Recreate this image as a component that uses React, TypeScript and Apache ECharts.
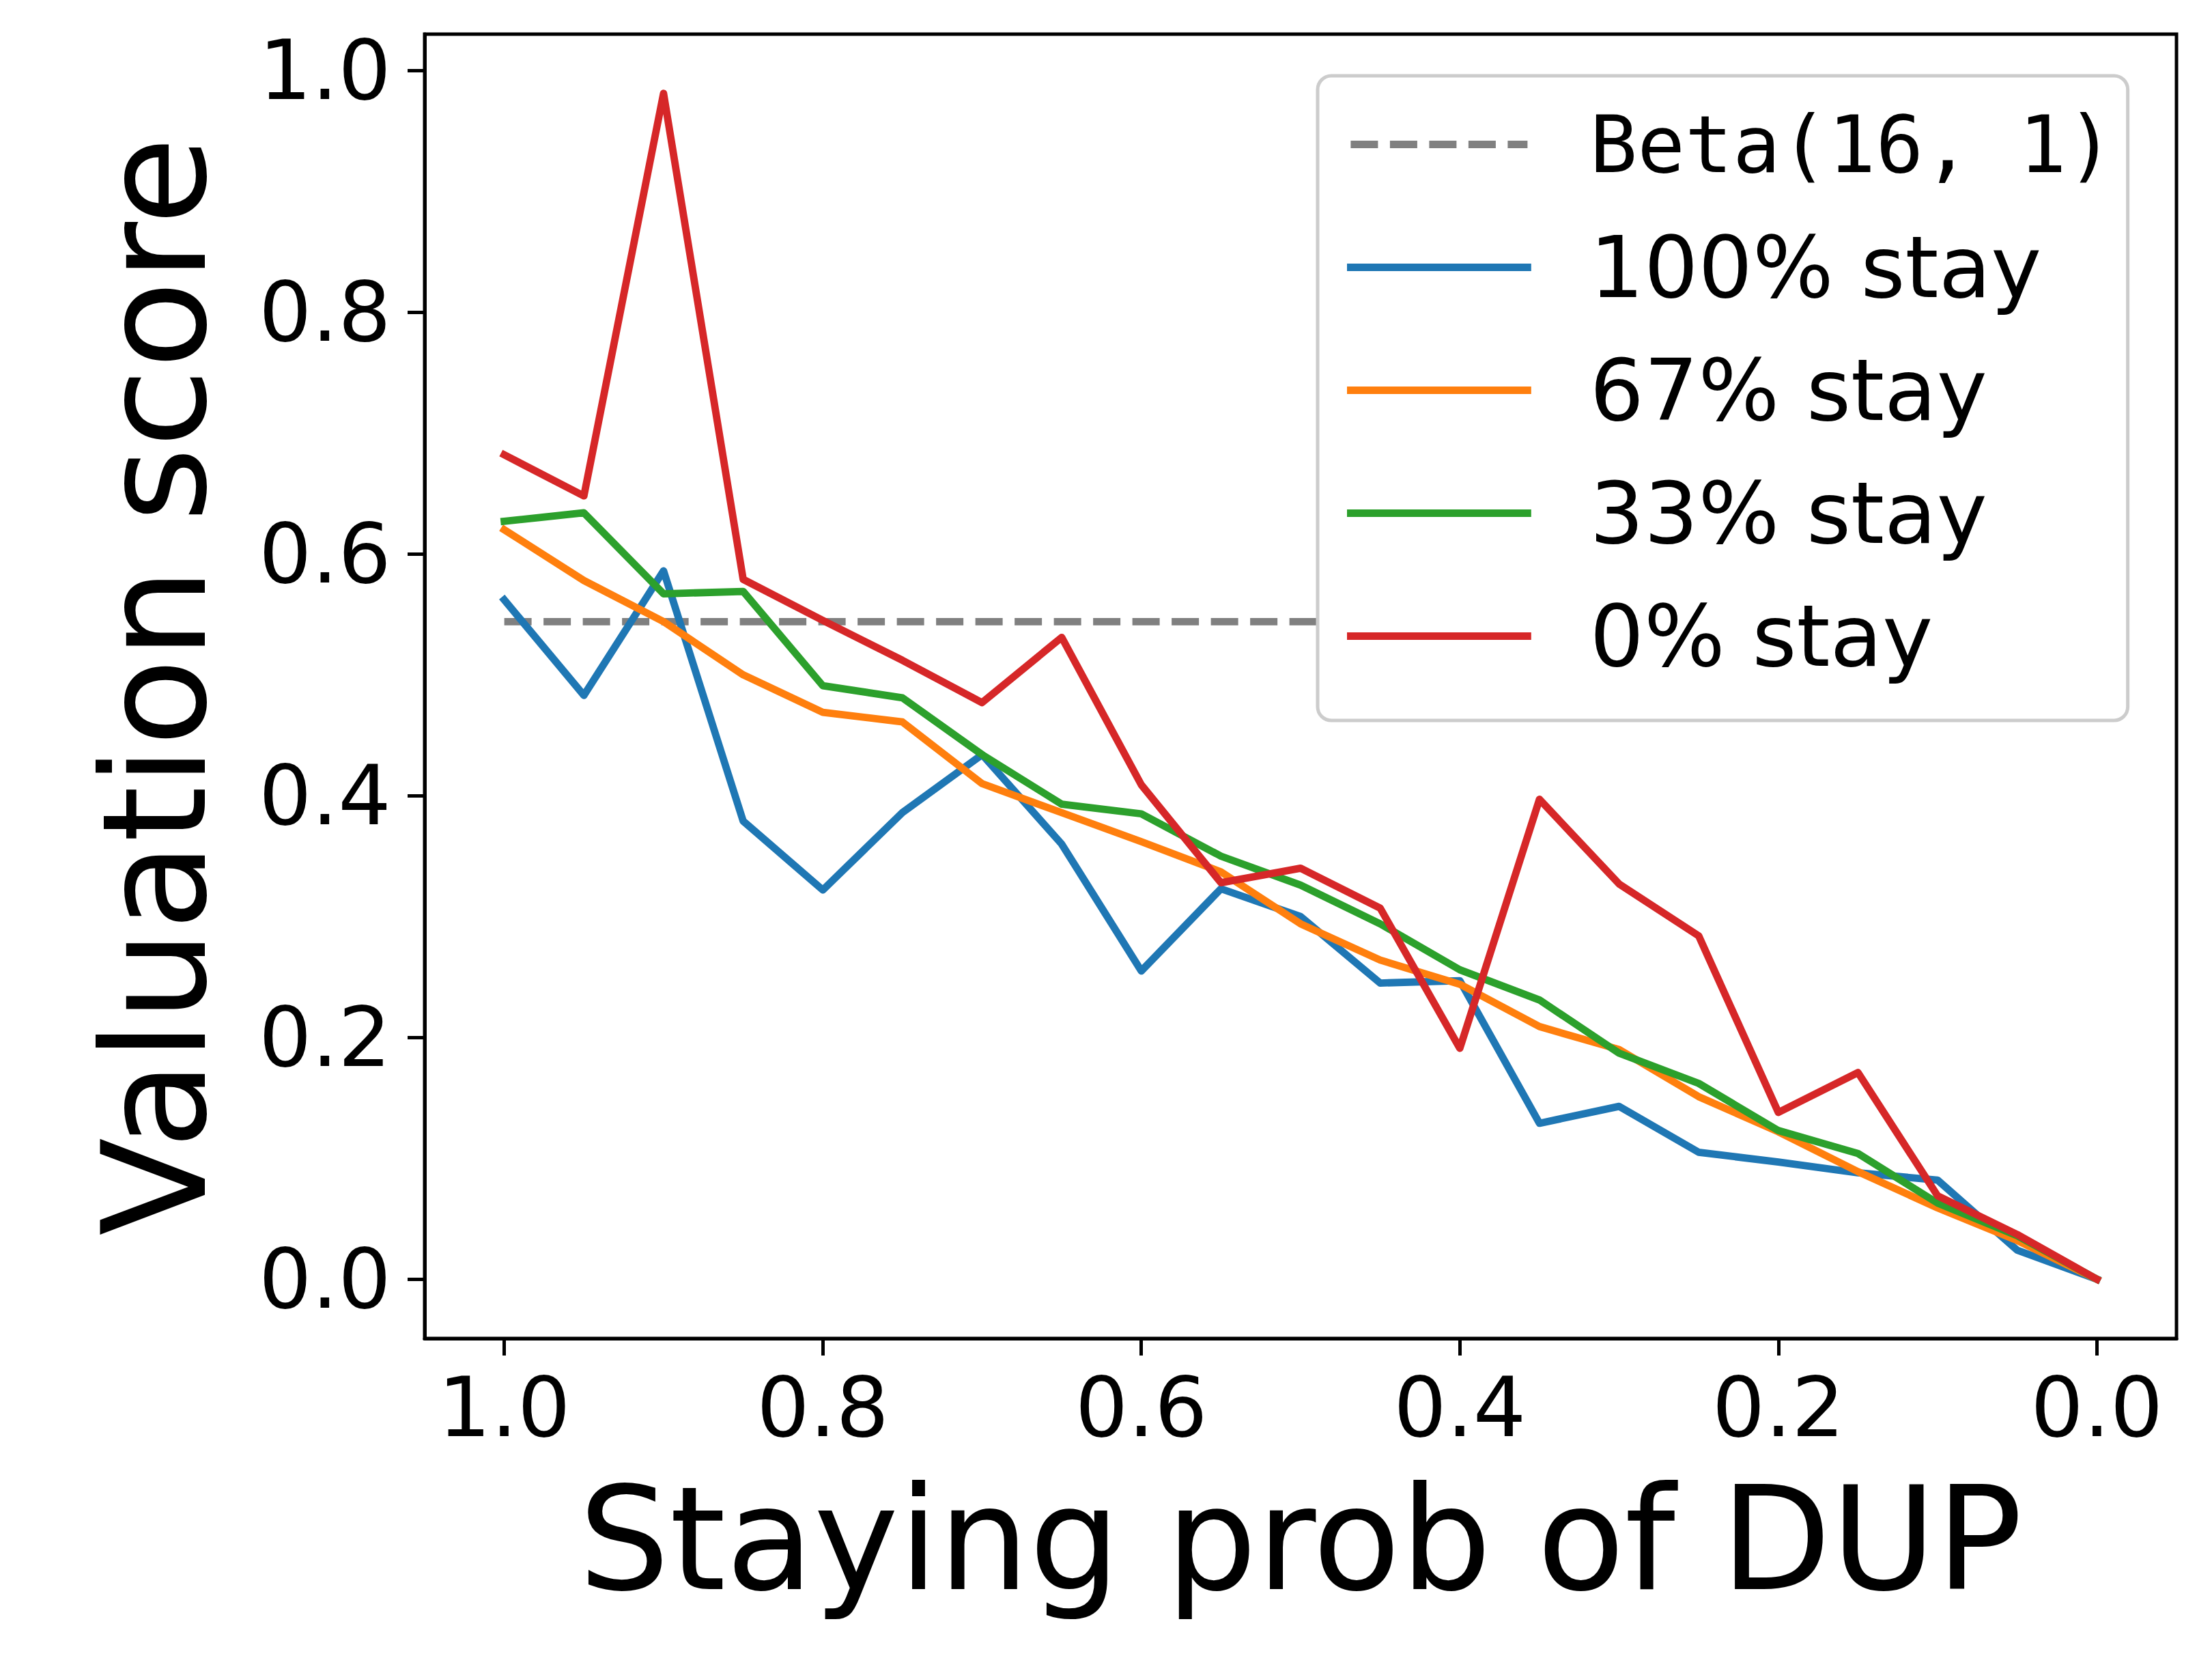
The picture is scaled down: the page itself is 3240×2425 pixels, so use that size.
import React, { useEffect, useRef } from "react";
import * as echarts from "echarts";

const xValues = [1.0, 0.95, 0.9, 0.85, 0.8, 0.75, 0.7, 0.65, 0.6, 0.55, 0.5, 0.45, 0.4, 0.35, 0.3, 0.25, 0.2, 0.15, 0.1, 0.05, 0.0];

const betaName = "Beta(16, 1)";
const betaValues = [0.544, 0.544, 0.544, 0.544, 0.544, 0.544, 0.544, 0.544, 0.544, 0.544, 0.544, 0.544, 0.544, 0.544, 0.544, 0.544, 0.544, 0.544, 0.544, 0.544, 0.544];

const stay100 = [0.562, 0.483, 0.586, 0.379, 0.322, 0.386, 0.434, 0.360, 0.255, 0.323, 0.300, 0.245, 0.247, 0.129, 0.143, 0.105, 0.097, 0.088, 0.082, 0.024, 0.0];
const stay67 = [0.620, 0.578, 0.544, 0.500, 0.469, 0.461, 0.410, 0.386, 0.362, 0.337, 0.294, 0.264, 0.244, 0.209, 0.190, 0.151, 0.122, 0.089, 0.059, 0.032, 0.0];
const stay33 = [0.627, 0.634, 0.567, 0.569, 0.491, 0.481, 0.434, 0.393, 0.385, 0.350, 0.326, 0.294, 0.256, 0.231, 0.187, 0.162, 0.123, 0.104, 0.063, 0.036, 0.0];
const stay0 = [0.682, 0.648, 0.981, 0.579, 0.545, 0.512, 0.477, 0.531, 0.409, 0.328, 0.340, 0.307, 0.191, 0.397, 0.327, 0.284, 0.138, 0.171, 0.069, 0.037, 0.0];

const seriesNames = ["100% stay", "67% stay", "33% stay", "0% stay"];
const seriesValues = [stay100, stay67, stay33, stay0];
const seriesColors = ["#1f77b4", "#ff7f0e", "#2ca02c", "#d62728"];

const tickValues = [0.0, 0.2, 0.4, 0.6, 0.8, 1.0];

const xTitle = "Staying prob of DUP";
const yTitle = "Valuation score";

const FONT = "DejaVu Sans";
const LW = 10.8;

function pairs(ys: number[]) {
  return xValues.map((x, i) => [x, ys[i]]);
}

function fmt(v: number) {
  return v.toFixed(1);
}

export default function App() {
  const ref = useRef<HTMLDivElement>(null);

  useEffect(() => {
    document.body.style.margin = "0";
    if (!ref.current) return;
    const chart = echarts.init(ref.current, undefined, { renderer: "svg" });

    const lineSeries: any[] = [
      {
        name: betaName,
        type: "line",
        data: pairs(betaValues),
        symbol: "none",
        silent: true,
        lineStyle: { color: "#808080", width: LW, type: [40, 17.5], cap: "butt" },
        itemStyle: { color: "#808080" },
        z: 2,
      },
      ...seriesNames.map((name, i) => ({
        name,
        type: "line",
        data: pairs(seriesValues[i]),
        symbol: "none",
        silent: true,
        lineStyle: { color: seriesColors[i], width: LW, cap: "square", join: "round" },
        itemStyle: { color: seriesColors[i] },
        z: 3 + i,
      })),
    ];

    chart.setOption({
      animation: false,
      backgroundColor: "#ffffff",
      grid: {
        left: 622,
        top: 50,
        width: 2566,
        height: 1910,
        show: true,
        borderColor: "#000",
        borderWidth: 5,
        backgroundColor: "transparent",
        containLabel: false,
        outerBoundsMode: "none",
      },
      legend: {
        orient: "vertical",
        left: 1930,
        top: 111,
        itemWidth: 259,
        itemHeight: 20,
        itemGap: 55,
        padding: [38, 20, 61, 43],
        borderColor: "#cccccc",
        borderWidth: 5,
        borderRadius: 20,
        backgroundColor: "#ffffff",
        z: 20,
        selectedMode: false,
        data: [betaName, ...seriesNames],
        lineStyle: { width: LW },
        itemStyle: { opacity: 0 },
        formatter: (name: string) =>
          name === betaName ? `{g| }{m|${name}}` : `{g| }{t|${name}}`,
        textStyle: {
          color: "#000",
          rich: {
            g: { width: 86, lineHeight: 130, fontSize: 125, fontFamily: FONT },
            t: { fontFamily: FONT, fontSize: 125, lineHeight: 130, color: "#000" },
            m: { fontFamily: "DejaVu Sans Mono", fontSize: 116, lineHeight: 130, color: "#000" },
          },
        },
      },
      xAxis: {
        type: "value",
        inverse: true,
        min: -0.05,
        max: 1.05,
        name: xTitle,
        nameLocation: "middle",
        nameGap: 294,
        nameMoveOverlap: false,
        nameTextStyle: {
          fontFamily: FONT,
          fontSize: 210,
          color: "#000",
          verticalAlign: "middle",
          align: "center",
        },
        axisLine: { show: true, onZero: false, lineStyle: { color: "#000", width: 5 } },
        axisTick: {
          show: true,
          length: 25,
          lineStyle: { color: "#000", width: 5 },
          customValues: tickValues,
        },
        axisLabel: {
          show: true,
          margin: 101,
          fontFamily: FONT,
          fontSize: 122,
          color: "#000",
          verticalAlign: "middle",
          customValues: tickValues,
          formatter: fmt,
        },
        splitLine: { show: false },
      },
      yAxis: {
        type: "value",
        min: -0.049,
        max: 1.03,
        name: yTitle,
        nameLocation: "middle",
        nameRotate: 90,
        nameGap: 395,
        nameMoveOverlap: false,
        nameTextStyle: {
          fontFamily: FONT,
          fontSize: 210,
          color: "#000",
          verticalAlign: "middle",
          align: "center",
        },
        axisLine: { show: true, onZero: false, lineStyle: { color: "#000", width: 5 } },
        axisTick: {
          show: true,
          length: 25,
          lineStyle: { color: "#000", width: 5 },
          customValues: tickValues,
        },
        axisLabel: {
          show: true,
          margin: 49,
          fontFamily: FONT,
          fontSize: 122,
          color: "#000",
          customValues: tickValues,
          formatter: fmt,
        },
        splitLine: { show: false },
      },
      series: lineSeries,
    });

    return () => {
      chart.dispose();
    };
  }, []);

  return <div ref={ref} style={{ width: 3240, height: 2425 }} />;
}
